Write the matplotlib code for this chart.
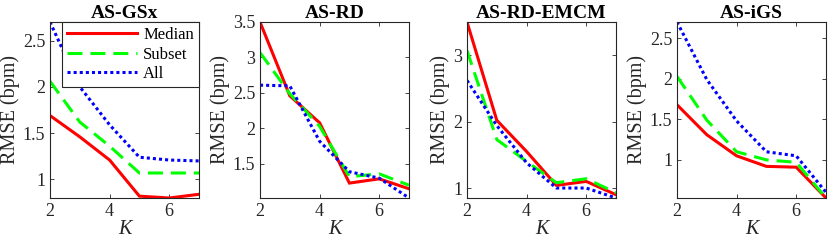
import matplotlib
matplotlib.use("Agg")
import matplotlib.pyplot as plt
from matplotlib.ticker import FuncFormatter

K = [2, 3, 4, 5, 6, 7]
titles = ["AS-GSx", "AS-RD", "AS-RD-EMCM", "AS-iGS"]
series_names = ["Median", "Subset", "All"]

median = [
    [1.69, 1.46, 1.21, 0.82, 0.80, 0.84],
    [3.50, 2.46, 2.08, 1.23, 1.29, 1.15],
    [3.50, 2.02, 1.55, 1.04, 1.10, 0.90],
    [1.68, 1.31, 1.05, 0.92, 0.91, 0.53],
]
subset = [
    [2.06, 1.62, 1.36, 1.07, 1.07, 1.07],
    [3.07, 2.49, 2.03, 1.32, 1.36, 1.20],
    [3.07, 1.73, 1.40, 1.08, 1.14, 0.93],
    [2.03, 1.49, 1.10, 1.00, 0.97, 0.53],
]
all_ = [
    [2.70, 2.00, 1.59, 1.24, 1.21, 1.20],
    [2.61, 2.60, 1.82, 1.39, 1.30, 1.02],
    [2.62, 1.94, 1.38, 1.00, 1.00, 0.85],
    [2.70, 1.99, 1.48, 1.10, 1.05, 0.60],
]
yticks = [
    [1, 1.5, 2, 2.5],
    [1.5, 2, 2.5, 3, 3.5],
    [1, 2, 3],
    [1, 1.5, 2, 2.5],
]
xticks = [2, 4, 6]

plt.rcParams["font.family"] = ["Liberation Serif", "DejaVu Serif"]

fig = plt.figure(figsize=(8.3, 2.42), dpi=100)
W, H = 830.0, 242.0
lefts = [50, 260, 467, 677]
width = 149
top, bottom = 22, 198
axcol = "#262626"

fmt = FuncFormatter(lambda v, p: "%g" % v)

for i in range(4):
    ax = fig.add_axes([lefts[i] / W, (H - bottom) / H, width / W, (bottom - top) / H])
    l1, = ax.plot(K, median[i], color=(1, 0, 0), lw=2.2, solid_joinstyle="miter")
    l2, = ax.plot(K, subset[i], color=(0, 1, 0), lw=2.2, dashes=(4.9, 2.6))
    l3, = ax.plot(K, all_[i], color=(0, 0, 1), lw=2.2, dashes=(1.0, 1.0))
    allv = median[i] + subset[i] + all_[i]
    ax.set_xlim(min(K), max(K))
    ax.set_ylim(min(allv), max(allv))
    ax.set_xticks(xticks)
    ax.set_yticks(yticks[i])
    ax.yaxis.set_major_formatter(fmt)
    ax.xaxis.set_major_formatter(fmt)
    ax.tick_params(direction="in", top=True, right=True, labelsize=13,
                   colors=axcol, labelcolor=axcol, length=3, width=0.6)
    for s in ax.spines.values():
        s.set_color(axcol)
        s.set_linewidth(0.8)
    ax.set_title(titles[i], fontsize=14, fontweight="bold", pad=3)
    ax.set_ylabel("RMSE (bpm)", fontsize=14.5, color=axcol, labelpad=2)
    ax.set_xlabel("K", fontsize=14.5, style="italic", color=axcol, labelpad=0)
    if i == 0:
        leg = ax.legend([l1, l2, l3], series_names, loc="upper right",
                        fontsize=12, handlelength=4.2, handletextpad=0.4,
                        borderpad=0.3, labelspacing=0.22, borderaxespad=0.0,
                        fancybox=False, framealpha=1, edgecolor=axcol)
        leg.get_frame().set_linewidth(0.8)

fig.savefig("out.png", dpi=100)
